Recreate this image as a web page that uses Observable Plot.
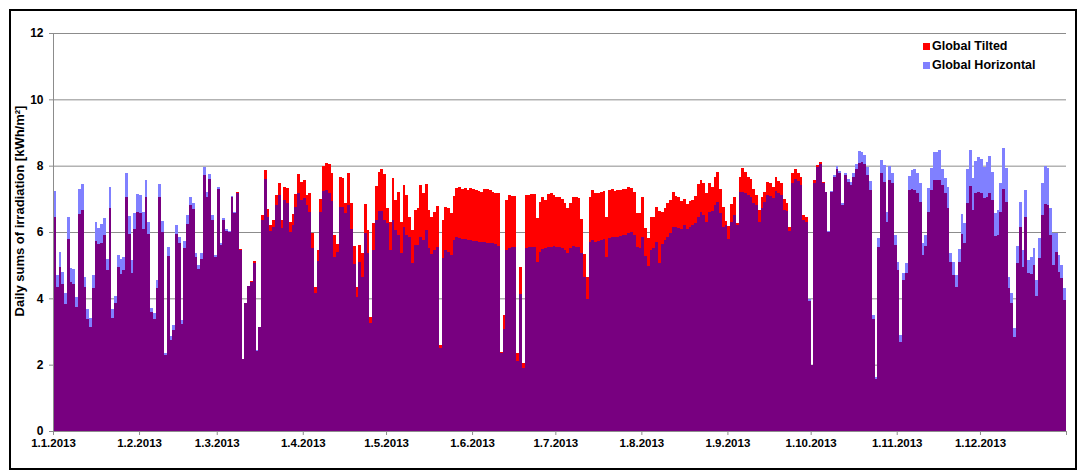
<!DOCTYPE html>
<html><head><meta charset="utf-8">
<script src="https://cdn.jsdelivr.net/npm/d3@7"></script>
<script src="https://cdn.jsdelivr.net/npm/@observablehq/plot@0.6"></script>
<style>
body{margin:0;background:#fff;font-family:"Liberation Sans",Arial,sans-serif;}
#wrap{position:relative;width:1079px;height:474px;overflow:hidden;background:#fff}
#chart{position:absolute;left:0;top:0}
#frame{position:absolute;left:9px;top:9px;width:1068px;height:461px;box-sizing:border-box;border:2px solid #000;pointer-events:none}
#ytitle{position:absolute;left:19px;top:211px;transform:translate(-50%,-50%) rotate(-90deg);white-space:nowrap;font-weight:bold;font-size:13px;color:#000}
.leg{position:absolute;left:923px;height:14px;font-weight:bold;font-size:12.5px;display:flex;align-items:center;color:#000;white-space:nowrap}
.sw{width:7px;height:7px;margin-right:2px;flex:none}
</style></head><body>
<div id="wrap">
  <div id="chart"></div>
  <div id="ytitle">Daily sums of irradiation [kWh/m²]</div>
  <div id="legend"></div>
  <div id="frame"></div>
</div>
<script>
// Series names and colours
const seriesNames = ["Global Tilted", "Global Horizontal"];
const seriesColors = ["#ff0000", "#8080ff"];
const overlapColor = "#780080";

// Month tick labels
const tickLabels = ["1.1.2013","1.2.2013","1.3.2013","1.4.2013","1.5.2013","1.6.2013","1.7.2013","1.8.2013","1.9.2013","1.10.2013","1.11.2013","1.12.2013"];
const yTicks = [0, 2, 4, 6, 8, 10, 12];

// Daily sums, Global Tilted (kWh/m²), 1.1.2013 .. 31.12.2013
const tilted = [
  // Jan
  6.45,4.35,4.95,4.42,3.82,5.8,4.5,4.42,3.75,6.55,6.65,4.35,3.38,3.15,4.32,5.73,5.65,5.67,5.92,4.85,6.73,3.4,3.85,4.93,4.72,4.85,7.06,5.95,4.77,6.08,6.6,
  // Feb
  6.57,6.1,7.05,5.95,3.6,3.38,4.3,7.05,6.0,2.3,5.27,2.73,3.05,5.95,5.68,3.23,5.52,6.25,6.8,6.68,5.24,4.87,5.2,7.72,7.07,7.59,6.36,5.24,
  // Mar
  7.29,5.61,6.36,6.04,6.0,7.07,6.58,7.22,5.48,2.16,3.87,4.37,4.52,5.14,2.4,3.15,6.51,7.87,6.68,6.21,6.36,7.12,7.49,6.36,7.37,7.32,6.31,6.54,7.15,7.75,7.52,
  // Apr
  7.57,7.12,7.17,5.98,4.35,5.46,6.98,7.99,8.09,8.05,7.77,5.91,5.64,7.65,7.62,6.88,7.77,6.88,5.58,4.35,5.61,5.36,6.84,6.06,3.45,6.26,7.39,7.82,7.89,7.75,
  // May
  6.71,6.31,7.62,6.96,7.22,6.31,7.42,7.12,6.46,6.06,6.66,6.71,7.42,7.17,7.45,6.66,6.44,6.61,6.78,2.59,6.36,6.74,6.71,6.56,7.09,7.32,7.37,7.29,7.32,7.27,7.32,
  // Jun
  7.29,7.27,7.25,7.22,7.29,7.29,7.27,7.22,7.19,7.17,2.39,3.5,6.96,7.12,7.09,7.09,2.34,4.93,2.04,7.12,7.12,7.15,7.15,6.41,6.91,7.05,6.96,7.15,7.17,7.12,
  // Jul
  7.07,7.05,6.98,6.86,6.71,6.86,7.07,7.05,7.02,6.38,5.34,4.63,7.05,7.27,7.17,7.19,7.22,7.25,6.44,7.27,7.29,7.25,7.27,7.27,7.29,7.29,7.37,7.32,7.22,6.58,6.58,
  // Aug
  7.05,6.11,5.81,6.44,6.44,6.74,6.64,6.61,6.71,6.86,6.96,7.22,7.09,7.05,6.94,6.98,6.84,6.94,6.96,7.09,7.45,7.57,7.47,7.19,7.49,7.37,7.67,7.82,7.29,6.76,6.34,
  // Sep
  6.18,6.84,7.05,6.28,7.65,7.92,7.82,7.67,7.59,7.29,7.12,6.66,7.05,7.22,7.52,7.47,7.37,7.65,7.55,7.47,6.98,6.86,6.14,7.77,7.89,7.77,7.65,6.51,6.46,3.93,
  // Oct
  1.98,7.57,8.02,8.12,7.52,7.22,6.0,7.22,7.65,7.89,7.77,6.81,7.72,7.52,7.42,7.65,7.89,8.09,8.12,8.05,7.72,7.27,3.37,1.56,5.54,7.77,7.52,6.31,7.57,7.47,5.61,
  // Nov
  4.85,2.69,4.55,4.75,7.27,7.29,7.27,7.17,6.91,5.31,5.58,6.61,7.27,7.57,7.57,7.57,7.42,7.17,6.71,5.11,4.7,4.35,5.11,5.94,5.66,6.86,7.39,6.66,7.19,7.22,
  // Dec
  7.17,7.02,7.07,7.17,6.96,5.88,5.91,6.61,7.29,6.91,4.3,3.85,2.82,5.06,6.16,4.95,6.46,4.75,4.73,5.0,4.07,5.21,6.51,6.84,6.81,5.91,5.0,5.41,4.8,4.6,3.95
];

// Daily sums, Global Horizontal (kWh/m²)
const horizontal = [
  // Jan
  7.25,4.7,5.4,4.8,4.15,6.45,4.9,4.88,4.05,7.3,7.45,4.65,3.68,3.42,4.7,6.3,6.12,6.25,6.42,5.2,7.35,3.67,4.08,5.3,5.2,5.25,7.77,6.48,5.15,6.58,7.15,
  // Feb
  7.12,6.6,7.58,6.3,3.7,3.55,4.55,7.45,6.33,2.35,5.55,2.85,3.2,6.2,5.85,3.35,5.73,6.52,7.05,6.88,5.38,5.0,5.36,7.97,7.22,7.75,6.51,5.3,
  // Mar
  7.37,5.66,6.41,6.08,6.04,7.08,6.61,7.17,5.46,2.18,3.87,4.37,4.5,5.08,2.43,3.15,6.36,7.59,6.44,6.04,6.14,6.81,7.12,6.11,6.96,6.86,6.01,6.21,6.74,7.19,6.96,
  // Apr
  7.02,6.81,6.61,5.51,4.15,5.14,6.61,7.25,7.27,7.19,6.94,5.24,5.41,6.76,6.74,6.58,6.81,6.08,5.04,4.05,5.11,4.65,5.96,5.36,3.27,5.46,6.36,6.64,6.64,6.36,
  // May
  6.26,5.46,6.36,6.06,5.91,5.36,6.16,5.91,5.86,5.06,5.61,5.61,5.86,5.76,6.06,5.51,5.33,5.46,5.56,2.49,5.21,5.46,5.41,5.31,5.76,5.84,5.81,5.78,5.78,5.76,5.76,
  // Jun
  5.74,5.74,5.71,5.71,5.71,5.68,5.68,5.66,5.64,5.58,2.34,3.07,5.46,5.51,5.54,5.54,2.12,4.13,1.89,5.51,5.54,5.56,5.54,5.11,5.41,5.48,5.51,5.54,5.56,5.58,
  // Jul
  5.54,5.54,5.51,5.46,5.38,5.51,5.58,5.56,5.54,5.36,4.65,3.97,5.71,5.76,5.71,5.74,5.76,5.78,5.26,5.81,5.84,5.84,5.86,5.88,5.9,5.91,5.98,6.01,5.91,5.54,5.51,
  // Aug
  5.86,5.28,4.97,5.46,5.51,5.71,5.06,5.64,5.76,5.86,5.96,6.14,6.14,6.11,6.08,6.21,6.08,6.14,6.21,6.28,6.44,6.61,6.51,6.31,6.61,6.64,6.81,6.91,6.56,6.16,6.21,
  // Sep
  5.78,6.31,6.51,6.21,7.22,7.22,7.17,7.12,7.07,6.88,6.81,6.31,6.71,6.91,7.12,7.09,7.02,7.25,7.19,7.12,6.66,6.64,6.04,7.47,7.59,7.55,7.42,6.36,6.31,3.97,
  // Oct
  2.0,7.47,7.95,8.05,7.47,7.22,6.02,7.24,7.72,7.99,7.85,6.86,7.79,7.59,7.52,7.77,8.05,8.45,8.42,8.32,7.95,7.55,3.5,1.62,5.81,8.17,8.02,6.61,7.99,7.77,5.91,
  // Nov
  5.11,2.89,4.75,5.06,7.69,7.87,7.89,7.77,7.47,5.66,5.91,7.32,7.92,8.42,8.42,8.47,7.89,7.62,7.37,5.36,5.11,4.7,5.48,6.54,6.26,7.89,8.47,7.62,8.15,8.25,
  // Dec
  8.19,7.97,8.12,8.29,7.82,6.58,6.66,7.47,8.52,7.92,4.65,4.17,3.1,5.58,6.91,5.46,7.27,5.16,5.24,5.51,4.55,5.81,7.49,7.99,7.92,6.71,5.96,5.96,5.31,5.0,4.3
];

const DAY = 864e5;
const start = Date.UTC(2013, 0, 1);
const end = Date.UTC(2014, 0, 1);

const data = tilted.map((t, i) => ({
  x1: new Date(start + i * DAY),
  x2: new Date(start + (i + 1) * DAY),
  T: t,
  H: horizontal[i],
  M: Math.min(t, horizontal[i])
}));

const tickDates = tickLabels.map((_, m) => new Date(Date.UTC(2013, m, 1))).concat([new Date(end)]);
const fmt = d => d.getUTCFullYear() === 2013 ? tickLabels[d.getUTCMonth()] : "";

const gray = "#8c8c8c";
const chart = Plot.plot({
  width: 1079,
  height: 474,
  marginLeft: 53,
  marginRight: 13,
  marginTop: 33,
  marginBottom: 43,
  style: {fontFamily: "'Liberation Sans', Arial, sans-serif", fontSize: "12px", fontWeight: "bold", color: "#000", background: "transparent", overflow: "visible"},
  x: {type: "utc", domain: [new Date(start), new Date(end)]},
  y: {domain: [0, 12]},
  marks: [
    Plot.gridY(yTicks, {stroke: gray, strokeOpacity: 1}),
    Plot.rectY(data, {x1: "x1", x2: "x2", y1: 0, y2: "T", fill: seriesColors[0], shapeRendering: "crispEdges"}),
    Plot.rectY(data, {x1: "x1", x2: "x2", y1: 0, y2: "H", fill: seriesColors[1], shapeRendering: "crispEdges"}),
    Plot.rectY(data, {x1: "x1", x2: "x2", y1: 0, y2: "M", fill: overlapColor, shapeRendering: "crispEdges"}),
    Plot.ruleY([0], {stroke: gray}),
    Plot.ruleX([new Date(start)], {stroke: gray}),
    Plot.axisY({ticks: yTicks, tickSize: 4, tickPadding: 6, stroke: gray, label: null, fontSize: 12}),
    Plot.axisX({ticks: tickDates, tickFormat: fmt, tickSize: 4, tickPadding: 3, stroke: gray, label: null, fontSize: 11.5})
  ]
});
document.getElementById("chart").appendChild(chart);

// Legend (HTML, positioned over plot area)
const legend = document.getElementById("legend");
const legTops = [39, 58];
seriesNames.forEach((name, i) => {
  const row = document.createElement("div");
  row.className = "leg";
  row.style.top = legTops[i] + "px";
  const sw = document.createElement("span");
  sw.className = "sw";
  sw.style.background = seriesColors[i];
  const tx = document.createElement("span");
  tx.textContent = name;
  row.appendChild(sw);
  row.appendChild(tx);
  legend.appendChild(row);
});
</script>
</body></html>
